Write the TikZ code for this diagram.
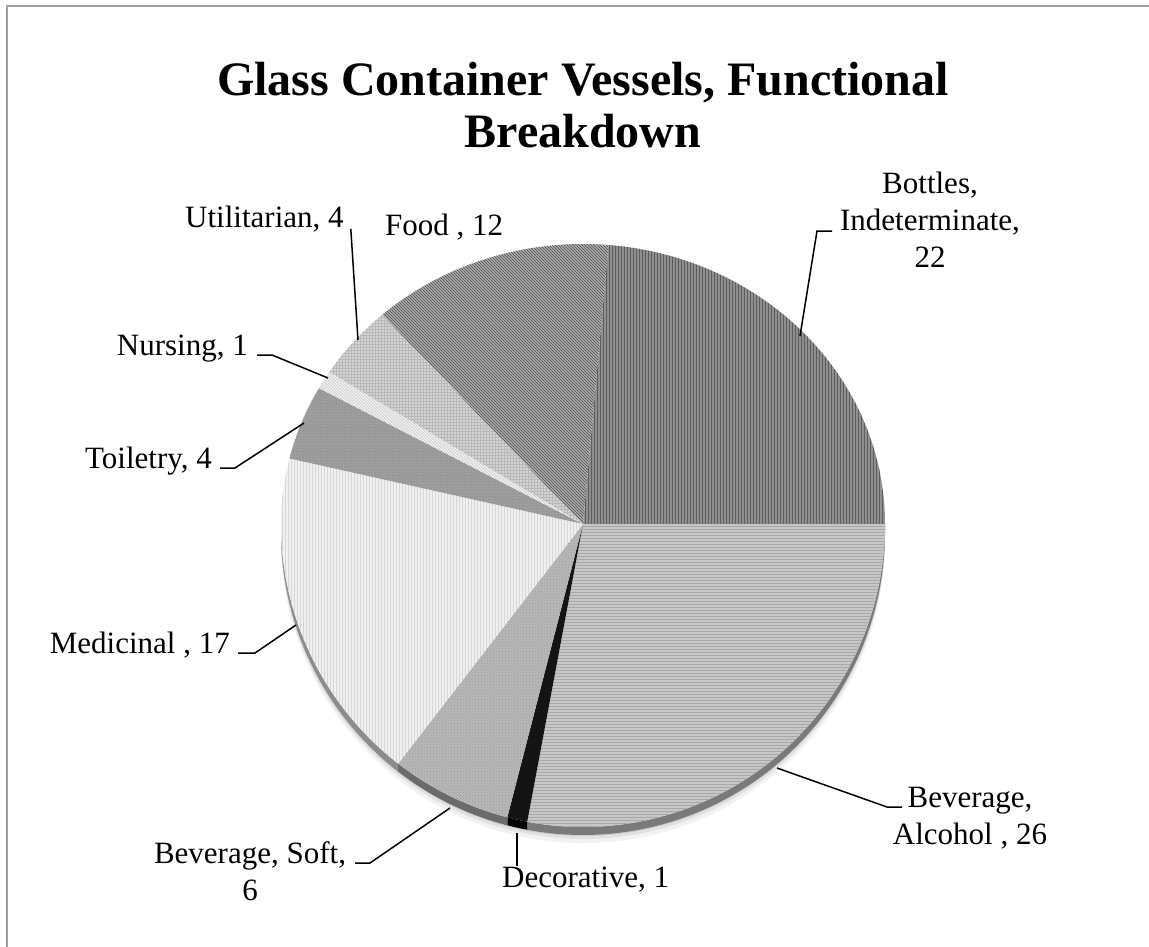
\documentclass[tikz,border=0pt]{standalone}
\usepackage{fontspec}
\setmainfont{Liberation Serif}
\usetikzlibrary{patterns}
\begin{document}
\begin{tikzpicture}[x=1pt,y=1pt,
  lbl/.style={font=\fontsize{31}{37}\selectfont, inner sep=0pt},
  ttl/.style={font=\bfseries\fontsize{48}{52}\selectfont, inner sep=0pt, align=center},
  lead/.style={line width=1.5pt, black},
  frameline/.style={draw=black!38, line width=2pt},
  bottlesF/.style={preaction={fill=black!44}, pattern=vertical lines, pattern color=black!64},
  alcoholF/.style={preaction={fill=black!22}, pattern=horizontal lines, pattern color=black!34},
  decoF/.style={fill=black!92},
  softF/.style={preaction={fill=black!28}, pattern=crosshatch dots, pattern color=black!40},
  mediF/.style={preaction={fill=black!6}, pattern=vertical lines, pattern color=black!16},
  toilF/.style={preaction={fill=black!38}, pattern=dots, pattern color=black!55},
  nursF/.style={preaction={fill=black!16}, pattern=north west lines, pattern color=white},
  utilF/.style={preaction={fill=black!17}, pattern=grid, pattern color=black!28},
  foodF/.style={preaction={fill=black!32}, pattern=north west lines, pattern color=black!70},
]
\useasboundingbox (0,0) rectangle (1149,-947);
% frame
\draw[frameline] (7,-947) -- (7,-6.5) -- (1149,-6.5);

\coordinate (C) at (583,-524);

% soft shadow under the pie
\foreach \s/\o in {16/0.05,12/0.07,9/0.09}{
  \fill[black,opacity=\o] (C) ++(302,0) arc[start angle=0,end angle=-180,x radius=302,y radius=303]
     -- ++(0,-\s) arc[start angle=-180,end angle=0,x radius=302,y radius=303] -- cycle;
}
% side band (3D edge)
\newcommand\sideband[3]{%
  \fill[#3] (C) ++(#1:302 and 303) arc[start angle=#1,end angle=#2,x radius=302,y radius=303]
     -- ++(0,-8) arc[start angle=#2,end angle=#1,x radius=302,y radius=303] -- cycle;}
\sideband{0}{-100.645}{black!52}
\sideband{-100.645}{-104.516}{black}
\sideband{-104.516}{-127.742}{black!58}
\sideband{-127.742}{-180}{black!45}

% top face slices
\fill[bottlesF] (C) -- ++(85.161:302 and 280) arc[start angle=85.161,end angle=0,x radius=302,y radius=280] -- cycle;
\fill[alcoholF] (C) -- ++(0:302 and 303) arc[start angle=0,end angle=-100.645,x radius=302,y radius=303] -- cycle;
\fill[decoF] (C) -- ++(-100.645:302 and 303) arc[start angle=-100.645,end angle=-104.516,x radius=302,y radius=303] -- cycle;
\fill[softF] (C) -- ++(-104.516:302 and 303) arc[start angle=-104.516,end angle=-127.742,x radius=302,y radius=303] -- cycle;
\fill[mediF] (C) -- ++(-127.742:302 and 303) arc[start angle=-127.742,end angle=-180,x radius=302,y radius=303]
   arc[start angle=180,end angle=166.451,x radius=302,y radius=280] -- cycle;
\fill[toilF] (C) -- ++(166.451:302 and 280) arc[start angle=166.451,end angle=150.967,x radius=302,y radius=280] -- cycle;
\fill[nursF] (C) -- ++(150.967:302 and 280) arc[start angle=150.967,end angle=147.096,x radius=302,y radius=280] -- cycle;
\fill[utilF] (C) -- ++(147.096:302 and 280) arc[start angle=147.096,end angle=131.613,x radius=302,y radius=280] -- cycle;
\fill[foodF] (C) -- ++(131.613:302 and 280) arc[start angle=131.613,end angle=85.161,x radius=302,y radius=280] -- cycle;

% title (base anchor = baseline of the last line)
\node[ttl, anchor=base] (title) at (583,-148) {Glass Container Vessels, Functional\\Breakdown};

% labels
\node[lbl, anchor=base west] (util) at (185,-227) {Utilitarian, 4};
\node[lbl, anchor=base west] (food) at (385,-235) {Food , 12};
\node[lbl, anchor=base east] (nurs) at (248,-355) {Nursing, 1};
\node[lbl, anchor=base east] (toil) at (212,-468) {Toiletry, 4};
\node[lbl, anchor=base east] (medi) at (230,-653) {Medicinal , 17};
\node[lbl, anchor=base, align=center] (soft) at (250,-900) {Beverage, Soft,\\6};
\node[lbl, anchor=base west] (deco) at (502,-887) {Decorative, 1};
\node[lbl, anchor=base, align=center] (alco) at (970,-844) {Beverage,\\Alcohol , 26};
\node[lbl, anchor=base, align=center] (bott) at (930,-267) {Bottles,\\Indeterminate,\\22};

% leader end points on the pie and tick starts next to the labels
\coordinate (utilP) at (358,-340);
\coordinate (nursP) at (328,-378);
\coordinate (toilP) at (304,-423);
\coordinate (mediP) at (296,-625);
\coordinate (softT) at (355,-863);
\coordinate (softP) at (450,-808);
\coordinate (decoP) at (517,-833);
\coordinate (alcoT) at (902,-807);
\coordinate (alcoP) at (777,-768);
\coordinate (bottT) at (832,-231);
\coordinate (bottP) at (800,-336);

% leader lines
\draw[lead] ([xshift=7pt,yshift=-2pt]util.base east) -- (utilP);
\draw[lead] ([xshift=9pt]nurs.base east) -- ++(15,0) -- (nursP);
\draw[lead] ([xshift=8pt]toil.base east) -- ++(15,0) -- (toilP);
\draw[lead] ([xshift=8pt]medi.base east) -- ++(17,0) -- (mediP);
\draw[lead] (softT) -- ++(15,0) -- (softP);
\draw[lead] (decoP) -- (decoP |- deco.north);
\draw[lead] (alcoT) -- ++(-15,0) -- (alcoP);
\draw[lead] (bottT) -- ++(-15,0) -- (bottP);
\end{tikzpicture}
\end{document}
